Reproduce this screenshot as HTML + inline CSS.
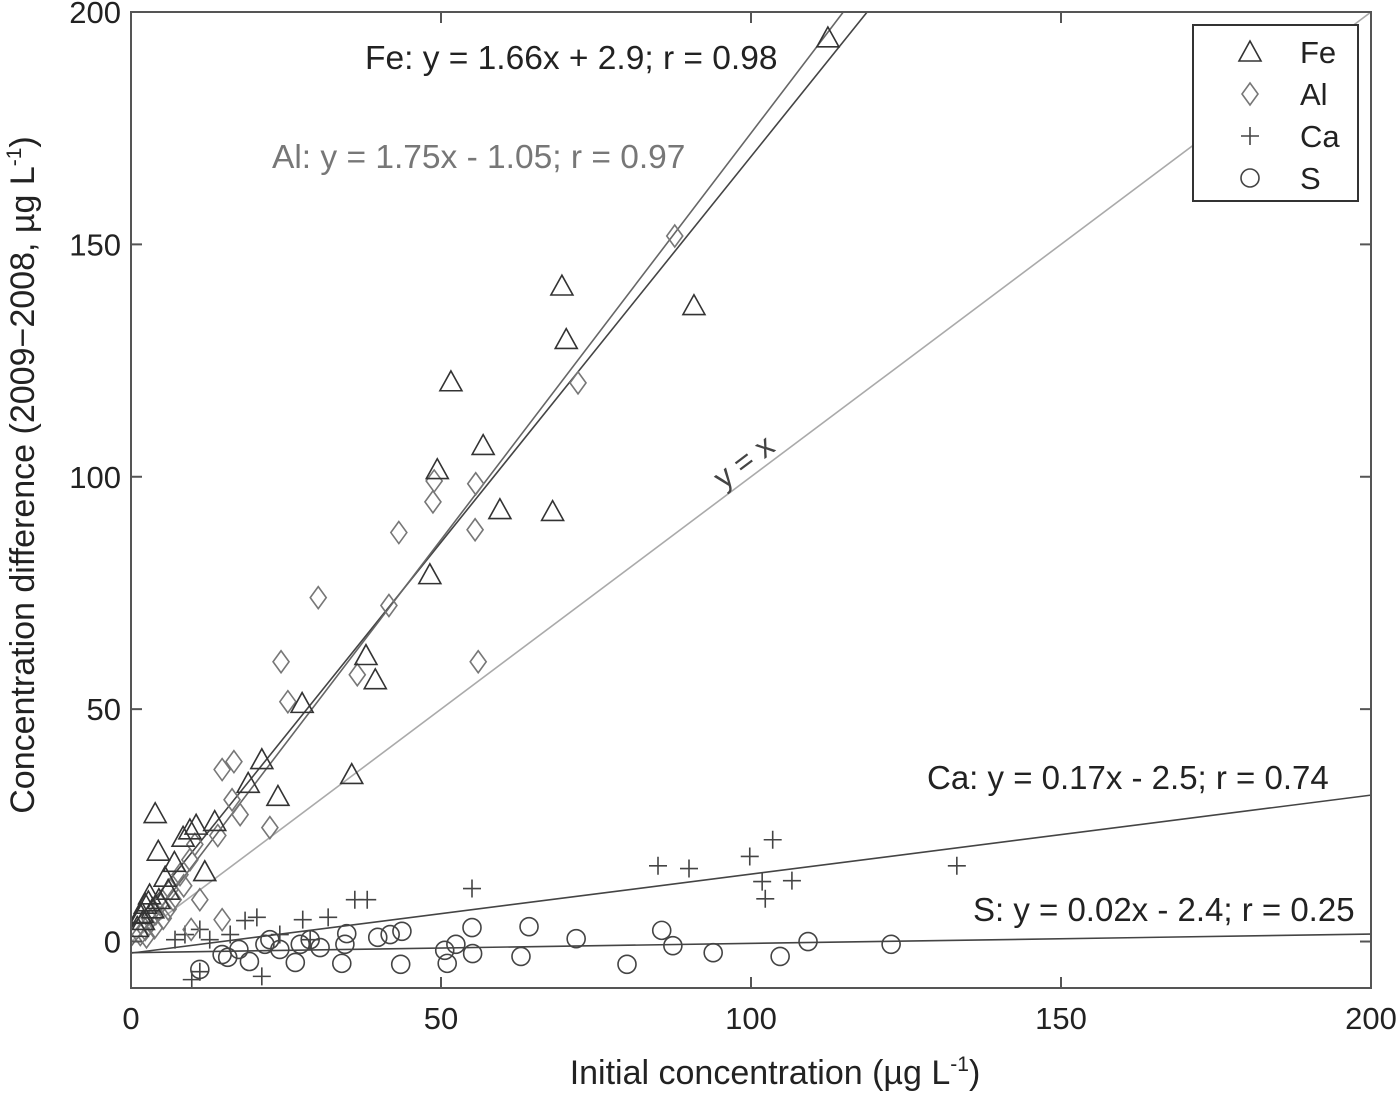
<!DOCTYPE html>
<html><head><meta charset="utf-8"><style>
html,body{margin:0;padding:0;background:#fff;}
svg{display:block;font-family:"Liberation Sans",sans-serif;}
</style></head><body>
<svg id="chart" width="1400" height="1094">
<g id="plot"></g>
</svg>
<script>
const feX=[112.4,69.5,70.2,90.8,51.6,56.8,49.4,59.5,68,48.2,37.9,39.4,27.6,35.6,21.1,23.7,18.9,3.9,13.5,4.4,11.9,9.5,8.4,1.5,2.3,3,5.5,7,10.5,1,2,3.5,4.5,6,1.8,2.8];
const feY=[194.4,141,129.5,136.8,120.4,106.7,101.5,92.9,92.5,78.9,61.5,56.3,51.2,35.9,39.1,31.2,34,27.5,25.8,19.4,15,24,22.4,5.8,8,10,13.8,17,25,3,4.5,7,9,11,6,8.5];
const alX=[87.7,72.1,30.2,55.6,48.9,48.7,55.5,43.2,41.6,56,24.2,36.5,25.3,16.6,14.7,16.3,17.6,22.4,14,10.3,9.5,7.9,6.3,4.7,3.1,2.3,14.7,9.7,11.1,8.5,6,2.5,3.8,5.2,6.8,4,1.5];
const alY=[151.8,120.2,74,98.5,99.1,94.6,88.6,88,72.3,60.2,60.2,57.4,51.6,38.7,37,30.5,27.3,24.5,22.8,20.9,17.6,14.4,11.2,8,4.7,2.6,4.7,2.6,9,12,7,1,3,5,9,6,1.5];
const caX=[133.2,103.5,99.8,90,85,106.6,101.8,102.3,55,38.1,36.1,31.8,27.7,20.3,18.4,11.1,8.7,7.1,12.7,9.8,21.1,11.1,16,24,28.9];
const caY=[16.3,21.9,18.3,15.7,16.3,13.1,12.9,9.2,11.4,9,9,5.2,4.7,5.2,4.5,2.6,1.5,0.4,0.4,-8.2,-7.5,-6.5,1.5,1.5,0.4];
const sX=[122.6,109.2,104.7,93.9,87.4,85.6,80,71.8,64.2,62.9,55,55.1,52.4,51,50.6,43.5,43.7,41.8,39.8,34.8,34.5,34,30.5,28.9,26.5,24,21.6,19.1,17.4,15.6,14.7,11.1,22.4,27.3];
const sY=[-0.6,0,-3.2,-2.4,-0.9,2.4,-4.9,0.6,3.2,-3.2,3,-2.6,-0.6,-4.7,-1.9,-4.9,2.2,1.5,0.9,1.7,-0.6,-4.7,-1.3,0.4,-4.5,-1.7,-0.6,-4.3,-1.7,-3.4,-2.8,-6,0.4,-0.6];
const fitNames=["fe-fit","al-fit","ca-fit","s-fit","identity-line"];
const fitSlopes=[1.66,1.75,0.17,0.02,1];
const fitIntercepts=[2.9,-1.05,-2.5,-2.4,0];
const fitColors=["#444","#666","#444","#444","#aaa"];
const xTicks=[0,50,100,150,200];
const yTicks=[0,50,100,150,200];

const NS="http://www.w3.org/2000/svg";
const X0=131,X1=1371,Y0=12,Y1=988;
const xMin=0,xMax=200,yMin=-10,yMax=200;
const sx=v=>X0+(v-xMin)/(xMax-xMin)*(X1-X0);
const sy=v=>Y1-(v-yMin)/(yMax-yMin)*(Y1-Y0);
const svg=document.getElementById('chart');
const plot=document.getElementById('plot');
function mk(tag,attrs,parent){const e=document.createElementNS(NS,tag);for(const k in attrs)e.setAttribute(k,attrs[k]);(parent||svg).appendChild(e);return e;}

const defs=mk('defs',{});
const cp=mk('clipPath',{id:'clip'},defs);
mk('rect',{x:X0,y:Y0,width:X1-X0,height:Y1-Y0},cp);
plot.setAttribute('clip-path','url(#clip)');

fitSlopes.forEach((m,i)=>{
  const l=mk('line',{x1:sx(xMin),y1:sy(fitIntercepts[i]+m*xMin),x2:sx(xMax),y2:sy(fitIntercepts[i]+m*xMax),stroke:fitColors[i],'stroke-width':1.6},plot);
  
  
});

function tri(x,y,c,p){const s=11;return mk('polygon',{points:`${x},${y-s} ${x-s},${y+s*0.8} ${x+s},${y+s*0.8}`,fill:'none',stroke:c,'stroke-width':1.6},p);}
function dia(x,y,c,p){return mk('polygon',{points:`${x},${y-11} ${x+8},${y} ${x},${y+11} ${x-8},${y}`,fill:'none',stroke:c,'stroke-width':1.6},p);}
function plus(x,y,c,p){return mk('path',{d:`M${x-9},${y}H${x+9}M${x},${y-9}V${y+9}`,fill:'none',stroke:c,'stroke-width':1.6},p);}
function circ(x,y,c,p){return mk('circle',{cx:x,cy:y,r:9,fill:'none',stroke:c,'stroke-width':1.6},p);}

const series=[[sX,sY,circ,'#444','s-point'],[caX,caY,plus,'#444','ca-point'],[alX,alY,dia,'#777','al-point'],[feX,feY,tri,'#333','fe-point']];
series.forEach(([xs,ys,f,c,n])=>{xs.forEach((v,i)=>{const e=f(sx(v),sy(ys[i]),c,plot);});});

const box=mk('rect',{x:X0,y:Y0,width:X1-X0,height:Y1-Y0,fill:'none',stroke:'#555','stroke-width':2});

xTicks.forEach(t=>{
  mk('line',{x1:sx(t),y1:Y1,x2:sx(t),y2:Y1-11,stroke:'#555','stroke-width':2});
  mk('line',{x1:sx(t),y1:Y0,x2:sx(t),y2:Y0+11,stroke:'#555','stroke-width':2});
  const e=mk('text',{x:sx(t),y:1029,'text-anchor':'middle','font-size':31,fill:'#222'});e.textContent=t;
  
});
yTicks.forEach(t=>{
  mk('line',{x1:X0,y1:sy(t),x2:X0+11,y2:sy(t),stroke:'#555','stroke-width':2});
  mk('line',{x1:X1,y1:sy(t),x2:X1-11,y2:sy(t),stroke:'#555','stroke-width':2});
  const e=mk('text',{x:121,y:sy(t)+11,'text-anchor':'end','font-size':31,fill:'#222'});e.textContent=t;
  
});
</script>
<div style="position:absolute;left:0;top:0;width:1400px;height:1094px;pointer-events:none">
<svg width="1400" height="1094" style="font-family:'Liberation Sans',sans-serif">
<text x="775" y="1084" text-anchor="middle" font-size="34" fill="#222">Initial concentration (µg L<tspan dy="-13" font-size="21">-1</tspan><tspan dy="13">)</tspan></text>
<text transform="translate(34,475) rotate(-90)" text-anchor="middle" font-size="34" fill="#222">Concentration difference (2009−2008, µg L<tspan dy="-13" font-size="21">-1</tspan><tspan dy="13">)</tspan></text>
<text x="365" y="69" font-size="33.5" fill="#222">Fe: y = 1.66x + 2.9; r = 0.98</text>
<text x="272" y="168" font-size="33.5" fill="#777">Al: y = 1.75x - 1.05; r = 0.97</text>
<text x="927" y="789" font-size="33" fill="#222">Ca: y = 0.17x - 2.5; r = 0.74</text>
<text x="973" y="921" font-size="33" fill="#222">S: y = 0.02x - 2.4; r = 0.25</text>
<text transform="translate(750,470) rotate(-36.9)" text-anchor="middle" font-size="31" fill="#444">y = x</text>
<g>
<rect x="1193" y="25" width="165" height="176" fill="#fff" stroke="#333" stroke-width="2"/>
<polygon points="1250,41 1239,61 1261,61" fill="none" stroke="#333" stroke-width="1.6"/>
<text x="1300" y="63" font-size="31" fill="#222">Fe</text>
<polygon points="1250,83 1258,94 1250,105 1242,94" fill="none" stroke="#777" stroke-width="1.6"/>
<text x="1300" y="105" font-size="31" fill="#222">Al</text>
<path d="M1241,136H1259M1250,127V145" stroke="#444" stroke-width="1.6"/>
<text x="1300" y="147" font-size="31" fill="#222">Ca</text>
<circle cx="1250" cy="178" r="9" fill="none" stroke="#444" stroke-width="1.6"/>
<text x="1300" y="189" font-size="31" fill="#222">S</text>
</g>
</svg></div>
</body></html>
